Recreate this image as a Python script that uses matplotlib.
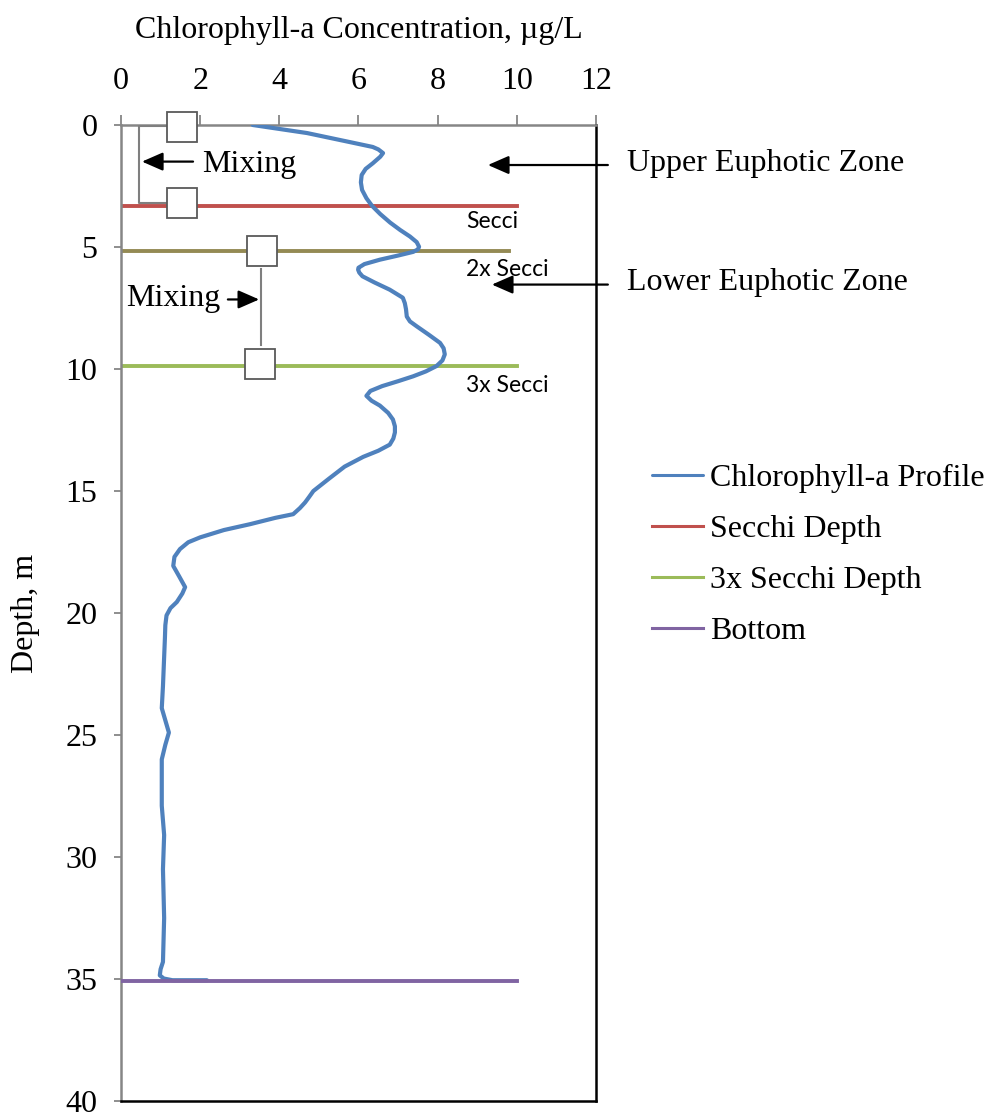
import matplotlib.pyplot as plt

# chlorophyll profile
profile_depth = [0, 0.33, 0.7, 0.9, 1.0, 1.15, 1.3, 1.57, 1.8, 2.05,
                 2.35, 2.66, 3.0, 3.31, 3.65, 4.0, 4.3, 4.57, 4.8, 4.99,
                 5.1, 5.2, 5.35, 5.52, 5.7, 5.85, 5.93, 6.05, 6.2, 6.45,
                 6.75, 7.08, 7.3, 7.55, 7.85, 8.05, 8.25, 8.6, 8.93, 9.15,
                 9.4, 9.65, 9.88, 10.1, 10.3, 10.5, 10.7, 10.9, 11.1, 11.3,
                 11.5, 11.8, 12.07, 12.35, 12.6, 12.85, 13.1, 13.35, 13.6, 14.0,
                 14.5, 15.0, 15.25, 15.47, 15.7, 15.95, 16.1, 16.36, 16.6, 16.9,
                 17.1, 17.38, 17.7, 18.07, 18.5, 18.94, 19.2, 19.55, 19.8, 20.1,
                 20.5, 21.0, 23.0, 23.9, 24.4, 24.9, 25.4, 26.0, 27.9, 29.1,
                 30.5, 32.5, 34.3, 34.6, 34.85, 34.98, 35.05, 35.05]
profile_chl = [3.33, 4.7, 5.78, 6.36, 6.5, 6.62, 6.55, 6.36, 6.18, 6.08,
               6.06, 6.09, 6.2, 6.34, 6.55, 6.8, 7.05, 7.3, 7.47, 7.53,
               7.5, 7.38, 7.0, 6.54, 6.15, 6.0, 5.99, 6.02, 6.1, 6.4,
               6.79, 7.12, 7.17, 7.2, 7.22, 7.3, 7.47, 7.78, 8.06, 8.15,
               8.18, 8.12, 7.97, 7.7, 7.38, 7.0, 6.6, 6.3, 6.2, 6.33,
               6.54, 6.75, 6.87, 6.92, 6.92, 6.88, 6.79, 6.5, 6.12, 5.65,
               5.25, 4.86, 4.75, 4.65, 4.52, 4.35, 3.9, 3.26, 2.6, 2.0,
               1.7, 1.49, 1.35, 1.32, 1.47, 1.62, 1.55, 1.41, 1.25, 1.15,
               1.12, 1.11, 1.06, 1.03, 1.12, 1.21, 1.12, 1.03, 1.03, 1.09,
               1.06, 1.09, 1.06, 1.0, 0.98, 1.08, 1.3, 2.17]

# horizontal reference lines
line_x = [0, 10]
line2x_x = [0, 9.8]
secchi_depth = 3.31
secchi2_depth = 5.15
secchi3_depth = 9.88
bottom_depth = 35.1

# mixing markers and connectors
box_x = [1.54, 1.54, 3.57, 3.5]
box_depth = [0.08, 3.2, 5.15, 9.8]
bracket_x = [1.14, 0.45, 0.45, 1.14]
bracket_depth = [0.05, 0.05, 3.2, 3.2]
mix2_x = [3.54, 3.54]
mix2_depth = [5.9, 9.0]

plt.rcParams['font.family'] = ['Liberation Serif', 'DejaVu Serif']
plt.rcParams['font.size'] = 23

fig = plt.figure(figsize=(9.87, 11.18), dpi=100)
ax = fig.add_axes([121 / 987, 1 - 1101 / 1118, 475 / 987, 976 / 1118])

prof, = ax.plot(profile_chl, profile_depth, color='#4F81BD', lw=3,
                solid_joinstyle='round', solid_capstyle='round', zorder=3,
                label='Chlorophyll-a Profile')
sec, = ax.plot(line_x, [secchi_depth] * 2, color='#C0504D', lw=2.8, zorder=2, label='Secchi Depth')
ax.plot(line2x_x, [secchi2_depth] * 2, color='#948A54', lw=2.8, zorder=2)
sec3, = ax.plot(line_x, [secchi3_depth] * 2, color='#9BBB59', lw=2.8, zorder=2, label='3x Secchi Depth')
bot, = ax.plot(line_x, [bottom_depth] * 2, color='#8064A2', lw=2.8, zorder=4, label='Bottom')

ax.plot(bracket_x, bracket_depth, color='#7F7F7F', lw=1.5, zorder=4)
ax.plot(mix2_x, mix2_depth, color='#7F7F7F', lw=1.5, zorder=4)
ax.plot(box_x, box_depth, ls='none', marker='s', ms=21, mfc='white',
        mec='#595959', mew=1.3, zorder=5, clip_on=False)

arrow = dict(arrowstyle='-|>,head_length=0.8,head_width=0.35', color='black',
             lw=1.6, shrinkA=0, shrinkB=0, mutation_scale=16)
ax.annotate('', xy=(0.53, 1.5), xytext=(1.82, 1.5), arrowprops=arrow, zorder=6)
ax.text(2.05, 1.62, 'Mixing', ha='left', va='center')
ax.annotate('', xy=(3.49, 7.15), xytext=(2.70, 7.15), arrowprops=arrow, zorder=6)
ax.text(2.5, 7.1, 'Mixing', ha='right', va='center')

ax.annotate('', xy=(9.27, 1.64), xytext=(12.3, 1.64), arrowprops=arrow, annotation_clip=False)
ax.annotate('', xy=(9.37, 6.54), xytext=(12.3, 6.54), arrowprops=arrow, annotation_clip=False)
fig.text(627 / 987, 1 - 163 / 1118, 'Upper Euphotic Zone', ha='left', va='center')
fig.text(627 / 987, 1 - 283 / 1118, 'Lower Euphotic Zone', ha='left', va='center')

sans = ['Lato', 'DejaVu Sans']
ax.text(8.71, 3.97, 'Secci', family=sans, fontsize=16.5, ha='left', va='center')
ax.text(8.71, 5.93, '2x Secci', family=sans, fontsize=16.5, ha='left', va='center')
ax.text(8.71, 10.67, '3x Secci', family=sans, fontsize=16.5, ha='left', va='center')

ax.set_xlim(0, 12)
ax.set_ylim(40, 0)
ax.set_xticks(range(0, 13, 2))
ax.set_yticks(range(0, 41, 5))
ax.xaxis.tick_top()
ax.xaxis.set_label_position('top')
ax.set_xlabel('Chlorophyll-a Concentration, µg/L', labelpad=21)
ax.set_ylabel('Depth, m', labelpad=18)
ax.tick_params(axis='x', direction='out', length=7, width=1.3, color='#868686', pad=14)
ax.tick_params(axis='y', direction='out', length=5, width=1.3, color='#868686', pad=12)

for side in ['top', 'left']:
    ax.spines[side].set_color('#868686')
    ax.spines[side].set_linewidth(1.8)
for side in ['right', 'bottom']:
    ax.spines[side].set_color('black')
    ax.spines[side].set_linewidth(1.8)

fig.legend(handles=[prof, sec, sec3, bot], loc='center left',
           bbox_to_anchor=(652 / 987, 1 - 555 / 1118), frameon=False,
           handlelength=1.6, handletextpad=0.22, labelspacing=0.68,
           borderpad=0, borderaxespad=0)
for h in fig.legends[0].get_lines():
    h.set_linewidth(2.2)

fig.savefig('out.png', dpi=100)
